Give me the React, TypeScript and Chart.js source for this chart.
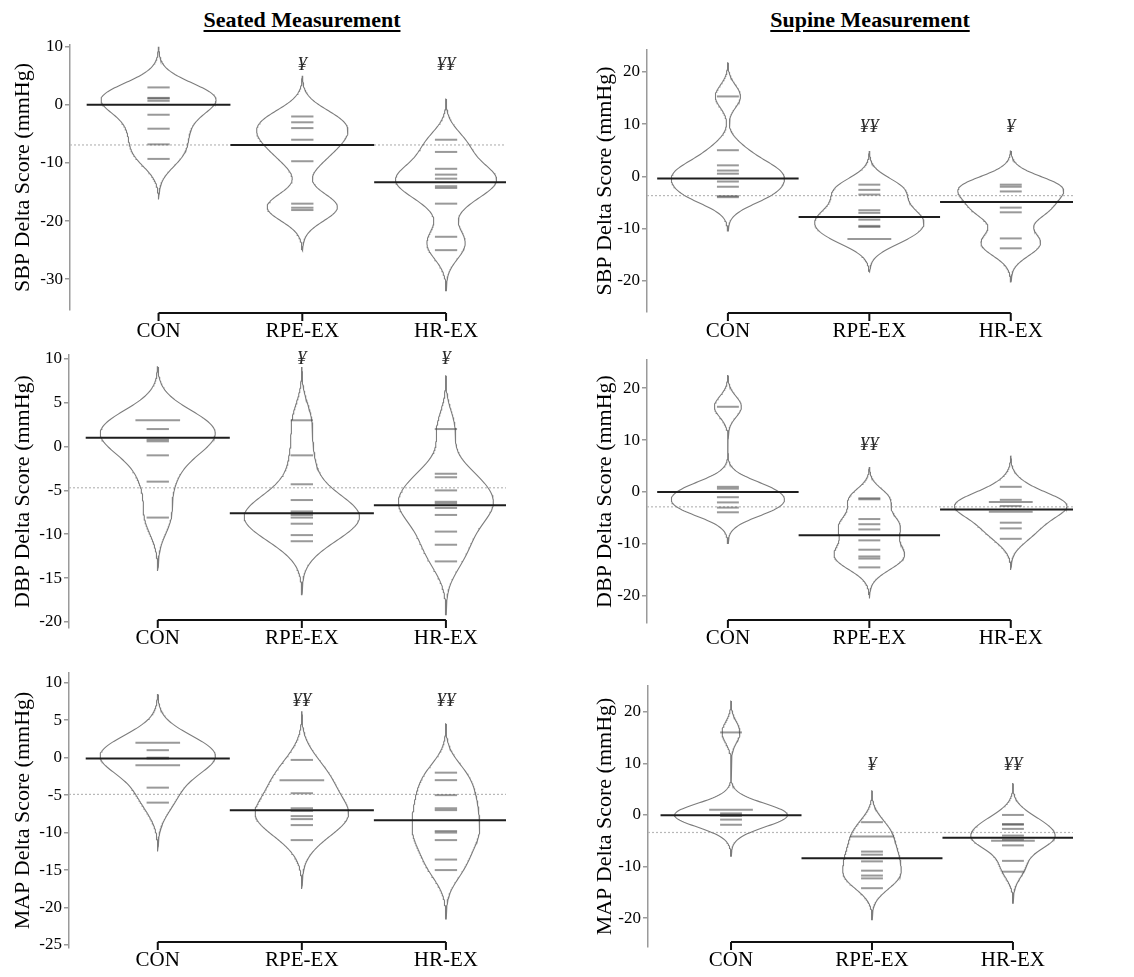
import React, { useEffect, useRef } from "react";
import { Chart, registerables } from "chart.js";

Chart.register(...registerables);

const FONT = '"Liberation Serif", "Times New Roman", serif';
const PAGE_W = 1134;
const PAGE_H = 977;

const categories = ["CON", "RPE-EX", "HR-EX"];

// ---- Seated SBP ----
const seatedSbpCon = [3.0, 1.2, 1.1, 0.7, -1.7, -4.1, -6.8, -9.3];
const seatedSbpRpe = [-2.0, -3.0, -4.0, -6.0, -6.9, -9.7, -17.0, -17.7, -18.1];
const seatedSbpHr = [-6.0, -8.1, -11.0, -12.0, -12.7, -14.0, -14.3, -17.0, -22.7, -25.0];
const seatedSbpMeans = [0, -6.9, -13.3];
const seatedSbpGrandMean = -6.9;
const seatedSbpMarks = ["", "¥", "¥¥"];
const seatedSbpTicks = [10, 0, -10, -20, -30];

// ---- Supine SBP ----
const supineSbpCon = [15.3, 5.0, 2.1, 1.1, 0.5, -1.0, -2.0, -3.8, -4.0];
const supineSbpRpe = [-1.6, -2.6, -3.5, -6.5, -7.0, -8.3, -9.5, -9.7, -12.0, -12.0];
const supineSbpHr = [-1.6, -2.0, -2.9, -6.0, -6.9, -11.9, -13.8];
const supineSbpMeans = [-0.4, -7.8, -4.9];
const supineSbpGrandMean = -3.7;
const supineSbpMarks = ["", "¥¥", "¥"];
const supineSbpTicks = [20, 10, 0, -10, -20];

// ---- Seated DBP ----
const seatedDbpCon = [3.0, 3.0, 2.0, 0.8, 0.6, -1.0, -4.0, -8.1];
const seatedDbpRpe = [3.0, -1.0, -4.3, -6.1, -7.4, -7.6, -7.8, -8.1, -8.8, -10.1, -10.8];
const seatedDbpHr = [2.0, -3.1, -3.5, -5.0, -6.3, -6.5, -7.0, -7.8, -9.7, -11.2, -13.1];
const seatedDbpMeans = [1.0, -7.6, -6.7];
const seatedDbpGrandMean = -4.7;
const seatedDbpMarks = ["", "¥", "¥"];
const seatedDbpTicks = [10, 5, 0, -5, -10, -15, -20];

// ---- Supine DBP ----
const supineDbpCon = [16.4, 1.0, 0.65, -1.0, -2.0, -3.0, -3.9];
const supineDbpRpe = [-1.2, -1.4, -5.2, -6.2, -7.2, -9.3, -11.1, -12.4, -12.8, -14.5];
const supineDbpHr = [1.0, -1.5, -1.9, -1.9, -2.7, -3.8, -3.8, -5.9, -7.0, -9.0];
const supineDbpMeans = [0, -8.3, -3.35];
const supineDbpGrandMean = -2.85;
const supineDbpMarks = ["", "¥¥", ""];
const supineDbpTicks = [20, 10, 0, -10, -20];

// ---- Seated MAP ----
const seatedMapCon = [2.0, 2.0, 1.0, 0.0, -0.1, -1.0, -1.0, -4.0, -6.0];
const seatedMapRpe = [-0.3, -3.0, -3.0, -4.75, -6.75, -7.1, -7.8, -8.2, -9.0, -11.0];
const seatedMapHr = [-2.0, -3.0, -5.0, -6.75, -7.0, -9.8, -10.0, -11.0, -13.6, -15.0];
const seatedMapMeans = [-0.1, -7.0, -8.35];
const seatedMapGrandMean = -4.9;
const seatedMapMarks = ["", "¥¥", "¥¥"];
const seatedMapTicks = [10, 5, 0, -5, -10, -15, -20, -25];

// ---- Supine MAP ----
const supineMapCon = [16.0, 1.0, 1.0, 0.3, 0.0, -0.2, -0.9, -1.9];
const supineMapRpe = [-1.4, -4.2, -4.2, -7.1, -7.7, -9.0, -10.8, -11.75, -12.3, -14.2];
const supineMapHr = [0.0, -1.75, -1.9, -2.7, -4.0, -4.8, -5.0, -5.0, -5.9, -8.9, -11.0];
const supineMapMeans = [-0.05, -8.4, -4.4];
const supineMapGrandMean = -3.4;
const supineMapMarks = ["", "¥", "¥¥"];
const supineMapTicks = [20, 10, 0, -10, -20];

type Panel = {
  yLabel: string;
  groups: number[][];
  means: number[];
  grand: number;
  marks: string[];
  markY: number;
  ticks: number[];
  yMin: number;
  yMax: number;
  bw: number;
  area: { left: number; top: number; right: number; bottom: number };
  xMin: number;
  xMax: number;
  bracketOffset: number;
  yAxisW: number;
  titlePad: number;
};

const panels: Panel[] = [
  {
    yLabel: "SBP Delta Score (mmHg)",
    groups: [seatedSbpCon, seatedSbpRpe, seatedSbpHr],
    means: seatedSbpMeans, grand: seatedSbpGrandMean, marks: seatedSbpMarks, markY: 6.9,
    ticks: seatedSbpTicks, yMin: -35.3, yMax: 10.3, bw: 2.33,
    area: { left: 70, top: 45, right: 506, bottom: 310 },
    xMin: 0.384, xMax: 3.417, bracketOffset: 3, yAxisW: 70, titlePad: 10,
  },
  {
    yLabel: "SBP Delta Score (mmHg)",
    groups: [supineSbpCon, supineSbpRpe, supineSbpHr],
    means: supineSbpMeans, grand: supineSbpGrandMean, marks: supineSbpMarks, markY: 9.4,
    ticks: supineSbpTicks, yMin: -26, yMax: 24.2, bw: 2.15,
    area: { left: 647, top: 50, right: 1073, bottom: 312 },
    xMin: 0.428, xMax: 3.44, bracketOffset: 1, yAxisW: 60, titlePad: 5,
  },
  {
    yLabel: "DBP Delta Score (mmHg)",
    groups: [seatedDbpCon, seatedDbpRpe, seatedDbpHr],
    means: seatedDbpMeans, grand: seatedDbpGrandMean, marks: seatedDbpMarks, markY: 10.0,
    ticks: seatedDbpTicks, yMin: -20.7, yMax: 10.45, bw: 2.03,
    area: { left: 69, top: 355, right: 506, bottom: 628 },
    xMin: 0.384, xMax: 3.417, bracketOffset: -8, yAxisW: 69, titlePad: 10,
  },
  {
    yLabel: "DBP Delta Score (mmHg)",
    groups: [supineDbpCon, supineDbpRpe, supineDbpHr],
    means: supineDbpMeans, grand: supineDbpGrandMean, marks: supineDbpMarks, markY: 9.1,
    ticks: supineDbpTicks, yMin: -25.2, yMax: 25.4, bw: 2.0,
    area: { left: 647, top: 360, right: 1073, bottom: 623 },
    xMin: 0.428, xMax: 3.44, bracketOffset: -3, yAxisW: 60, titlePad: 5,
  },
  {
    yLabel: "MAP Delta Score (mmHg)",
    groups: [seatedMapCon, seatedMapRpe, seatedMapHr],
    means: seatedMapMeans, grand: seatedMapGrandMean, marks: seatedMapMarks, markY: 7.6,
    ticks: seatedMapTicks, yMin: -25.4, yMax: 11.3, bw: 2.17,
    area: { left: 69, top: 673, right: 506, bottom: 948 },
    xMin: 0.384, xMax: 3.417, bracketOffset: -6, yAxisW: 69, titlePad: 10,
  },
  {
    yLabel: "MAP Delta Score (mmHg)",
    groups: [supineMapCon, supineMapRpe, supineMapHr],
    means: supineMapMeans, grand: supineMapGrandMean, marks: supineMapMarks, markY: 9.6,
    ticks: supineMapTicks, yMin: -25.6, yMax: 25, bw: 2.03,
    area: { left: 648, top: 686, right: 1073, bottom: 947 },
    xMin: 0.411, xMax: 3.426, bracketOffset: -5, yAxisW: 61, titlePad: 5,
  },
];

const X_AXIS_H = 28;
const LINE_HALF = 0.0775; // half length of a bean line per observation
const BEAN_HALF = 0.4; // half width of widest bean

function kde(values: number[], bw: number, y: number) {
  let s = 0;
  for (const v of values) {
    const z = (y - v) / bw;
    s += Math.exp(-0.5 * z * z);
  }
  return s / (values.length * bw * Math.sqrt(2 * Math.PI));
}

function buildDatasets(p: Panel) {
  const ds: any[] = [];
  const base = { showLine: true, pointRadius: 0, tension: 0, fill: false };
  // overall mean (dotted)
  ds.push({
    ...base,
    data: [{ x: p.xMin, y: p.grand }, { x: p.xMax, y: p.grand }],
    borderColor: "#b8b8b8",
    borderWidth: 1.2,
    borderDash: [2, 2],
    order: 4,
  });
  // bean outlines from kernel density of the observations
  const N = 160;
  const grids = p.groups.map((vals) => {
    const lo = Math.min(...vals) - 3 * p.bw;
    const hi = Math.max(...vals) + 3 * p.bw;
    const pts: { y: number; d: number }[] = [];
    for (let i = 0; i <= N; i++) {
      const y = hi - ((hi - lo) * i) / N;
      pts.push({ y, d: kde(vals, p.bw, y) });
    }
    return pts;
  });
  let maxD = 0;
  grids.forEach((g) => g.forEach((pt) => (maxD = Math.max(maxD, pt.d))));
  grids.forEach((g, gi) => {
    const c = gi + 1;
    const right = g.map((pt) => ({ x: c + (BEAN_HALF * pt.d) / maxD, y: pt.y }));
    const left = g
      .slice()
      .reverse()
      .map((pt) => ({ x: c - (BEAN_HALF * pt.d) / maxD, y: pt.y }));
    ds.push({
      ...base,
      data: [...right, ...left, right[0]],
      borderColor: "#7c7c7c",
      borderWidth: 1.1,
      order: 3,
    });
  });
  // bean lines (one per distinct value; longer for ties)
  p.groups.forEach((vals, gi) => {
    const c = gi + 1;
    const counts = new Map<number, number>();
    vals.forEach((v) => counts.set(v, (counts.get(v) || 0) + 1));
    counts.forEach((n, v) => {
      ds.push({
        ...base,
        data: [{ x: c - LINE_HALF * n, y: v }, { x: c + LINE_HALF * n, y: v }],
        borderColor: "rgba(70,70,70,0.55)",
        borderWidth: 2,
        order: 2,
      });
    });
  });
  // group means
  p.means.forEach((m, gi) => {
    const c = gi + 1;
    ds.push({
      ...base,
      data: [{ x: c - 0.5, y: m }, { x: c + 0.5, y: m }],
      borderColor: "#1e1e1e",
      borderWidth: 2,
      order: 1,
    });
  });
  return ds;
}

function makeDecor(p: Panel) {
  return {
    id: "beanDecor",
    afterDraw(chart: any) {
      const { ctx, chartArea, scales } = chart;
      const x = scales.x;
      const y = scales.y;
      ctx.save();
      // bracket axis
      const by = chartArea.bottom + p.bracketOffset;
      ctx.strokeStyle = "#111";
      ctx.lineWidth = 2;
      ctx.beginPath();
      ctx.moveTo(x.getPixelForValue(1), by);
      ctx.lineTo(x.getPixelForValue(3), by);
      [1, 2, 3].forEach((v) => {
        const px = x.getPixelForValue(v);
        ctx.moveTo(px, by);
        ctx.lineTo(px, by + 8);
      });
      ctx.stroke();
      // significance marks
      ctx.fillStyle = "#2a2a2a";
      ctx.font = `italic 19px ${FONT}`;
      ctx.textAlign = "center";
      ctx.textBaseline = "middle";
      p.marks.forEach((m, gi) => {
        if (!m) return;
        ctx.fillText(m, x.getPixelForValue(gi + 1), y.getPixelForValue(p.markY));
      });
      ctx.restore();
    },
  };
}

function BeanPanel({ p }: { p: Panel }) {
  const ref = useRef<HTMLCanvasElement | null>(null);
  useEffect(() => {
    if (!ref.current) return;
    const chart = new Chart(ref.current, {
      type: "scatter",
      data: { datasets: buildDatasets(p) },
      options: {
        animation: false,
        responsive: false,
        events: [],
        layout: {
          padding: {
            left: p.area.left - p.yAxisW,
            top: p.area.top,
            right: PAGE_W - p.area.right,
            bottom: PAGE_H - p.area.bottom - X_AXIS_H,
          },
        },
        plugins: { legend: { display: false }, tooltip: { enabled: false } },
        scales: {
          x: {
            type: "linear",
            min: p.xMin,
            max: p.xMax,
            afterBuildTicks: (s: any) => {
              s.ticks = [1, 2, 3].map((v) => ({ value: v }));
            },
            afterFit: (s: any) => {
              s.height = X_AXIS_H;
            },
            grid: { display: false, drawTicks: false },
            border: { display: false },
            ticks: {
              callback: (v: any) => categories[Number(v) - 1] ?? "",
              padding: p.bracketOffset + 5.5,
              font: { family: FONT, size: 21 },
              color: "#000",
              maxRotation: 0,
              autoSkip: false,
            },
          },
          y: {
            type: "linear",
            min: p.yMin,
            max: p.yMax,
            afterBuildTicks: (s: any) => {
              s.ticks = p.ticks.map((v) => ({ value: v }));
            },
            afterFit: (s: any) => {
              s.width = p.yAxisW;
            },
            grid: { drawOnChartArea: false, drawTicks: true, tickLength: 5, color: "#9a9a9a", lineWidth: 1.5 },
            border: { display: true, color: "#9a9a9a", width: 1.5 },
            ticks: {
              padding: 2,
              font: { family: FONT, size: 17 },
              color: "#000",
              callback: (v: any) => String(v),
            },
            title: {
              display: true,
              text: p.yLabel,
              font: { family: FONT, size: 22 },
              color: "#000",
              padding: { top: p.titlePad, bottom: 0 },
            },
          },
        },
      } as any,
      plugins: [makeDecor(p)],
    });
    return () => chart.destroy();
  }, [p]);
  return (
    <canvas
      ref={ref}
      width={PAGE_W}
      height={PAGE_H}
      style={{ position: "absolute", left: 0, top: 0, width: PAGE_W, height: PAGE_H }}
    />
  );
}

const titleStyle: React.CSSProperties = {
  position: "absolute",
  top: 9,
  width: 300,
  textAlign: "center",
  fontFamily: FONT,
  fontWeight: "bold",
  fontSize: 22,
  lineHeight: "22px",
  color: "#000",
  textDecoration: "underline",
  textUnderlineOffset: "3px",
  textDecorationThickness: "2px",
};

export default function App() {
  return (
    <div
      style={{
        position: "absolute",
        left: 0,
        top: 0,
        width: PAGE_W,
        height: PAGE_H,
        background: "#fff",
        overflow: "hidden",
      }}
    >
      <div style={{ ...titleStyle, left: 302 - 150 }}>Seated Measurement</div>
      <div style={{ ...titleStyle, left: 870 - 150 }}>Supine Measurement</div>
      {panels.map((p, i) => (
        <BeanPanel key={i} p={p} />
      ))}
    </div>
  );
}
